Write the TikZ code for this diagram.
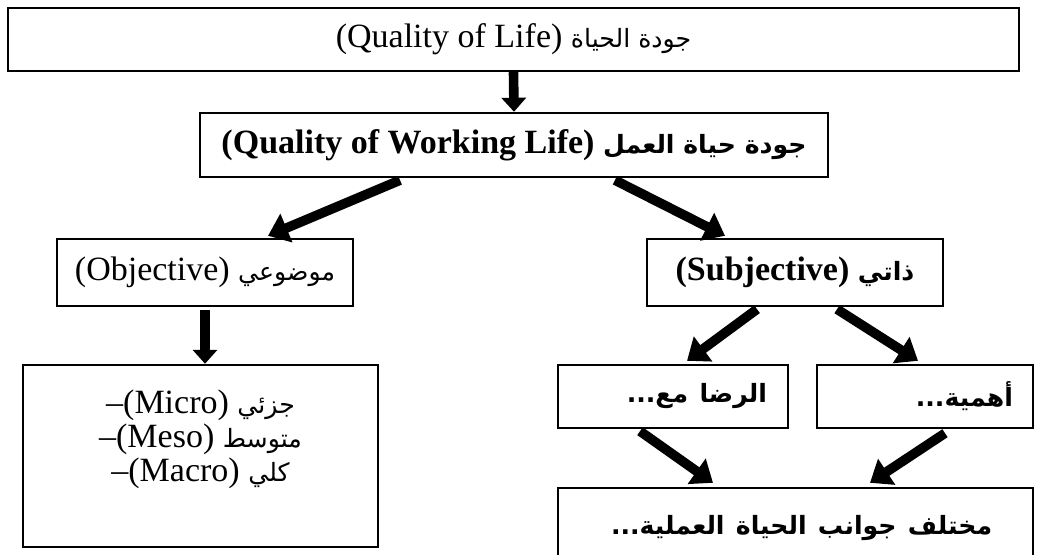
\documentclass[tikz,border=0pt]{standalone}
\usepackage{fontspec}
\setmainfont{Liberation Serif}
\newfontfamily\arabicfont[Script=Arabic,Scale=0.74]{DejaVu Sans}
\TeXXeTstate=1
\newcommand{\artxt}[1]{{\arabicfont\beginR #1\endR}}
\usetikzlibrary{arrows.meta,calc}

\begin{document}
\begin{tikzpicture}[x=0.5pt,y=-0.5pt,
    font=\fontsize{17}{17}\selectfont,
    box/.style={draw,line width=1.2pt,inner sep=0pt,align=center},
    bold/.style={font=\fontsize{17}{17}\selectfont\bfseries},
    fat/.style={line width=4.8pt,-{Triangle[length=10pt,width=15pt]}},
    down/.style={line width=4.8pt,-{Triangle[length=7pt,width=12pt]}}]
  \useasboundingbox (0,0) rectangle (1037,555);

  \node[box,minimum width=505.5pt,minimum height=31.5pt] (qol) at (513.5,39.5)
    {\hbox{(Quality of Life)} \artxt{جودة الحياة}};
  \node[box,bold,minimum width=314pt,minimum height=32pt] (qwl) at (514,145)
    {\hbox{(Quality of Working Life)} \artxt{جودة حياة العمل}};

  \node[box,minimum width=148pt,minimum height=33.5pt] (obj) at (205,272.5)
    {(Objective) \artxt{موضوعي}};
  \node[box,bold,minimum width=148pt,minimum height=33.5pt] (subj) at (795,272.5)
    {(Subjective) \artxt{ذاتي}};

  % levels of the objective side
  \node[box,minimum width=177.5pt,minimum height=91pt] (levels) at (200.5,456) {};
  \node[align=center] (lvltext) at (200.5,439)
    {–(Micro) \artxt{جزئي}\\
     –(Meso) \artxt{متوسط}\\
     –(Macro) \artxt{كلي}};

  \node[box,bold,minimum width=115pt,minimum height=31.5pt,
        inner xsep=10.5pt,text width=94pt,align=right] (sat) at (673,396.5)
    {\mbox{\artxt{الرضا مع...}}};
  \node[box,bold,minimum width=108pt,minimum height=31.5pt,
        inner xsep=10pt,text width=88pt,align=right] (imp) at (925,396.5)
    {\mbox{\artxt{أهمية...}}};
  \node[box,bold,minimum width=237.5pt,minimum height=40pt,
        inner xsep=26.5pt,text width=184.5pt,align=right] (asp) at (795.5,528)
    {\mbox{\artxt{مختلف جوانب الحياة العملية...}}};

  \draw[down] (qol.south) -- (qwl.north);
  \draw[fat] ($(qwl.south)+(-114,2)$) -- ($(obj.north)+(63,-2)$);
  \draw[fat] ($(qwl.south)+(101,2)$) -- ($(subj.north)+(-70,-2)$);
  \draw[down] ($(obj.south)+(0,3)$) -- (obj.south |- levels.north);
  \draw[fat] ($(subj.south)+(-38,2)$) -- ($(sat.north)+(14,-3)$);
  \draw[fat] ($(subj.south)+(42,2)$) -- ($(imp.north)+(-7,-3)$);
  \draw[fat] ($(sat.south)+(-33,2)$) -- ($(asp.north)+(-82.5,-4)$);
  \draw[fat] ($(imp.south)+(20,4)$) -- ($(asp.north)+(74.5,-4)$);
\end{tikzpicture}
\end{document}
